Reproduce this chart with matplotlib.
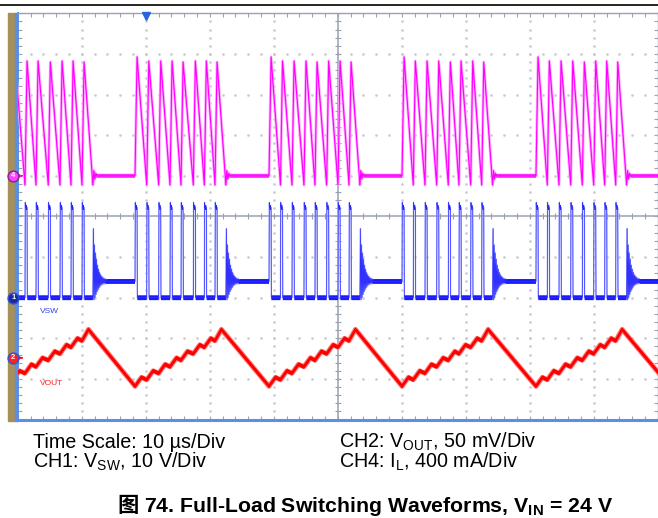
import matplotlib.pyplot as plt
import numpy as np
from matplotlib.lines import Line2D
from matplotlib.patches import Rectangle

plt.rcParams['font.family'] = ['Liberation Sans', 'Noto Sans CJK SC', 'DejaVu Sans']
plt.rcParams['mathtext.fontset'] = 'custom'
plt.rcParams['mathtext.rm'] = 'Liberation Sans'
plt.rcParams['mathtext.bf'] = 'Liberation Sans:bold'

W, H = 658, 518

bursts = [
    [-2.53, -0.73, 1.14, 2.86, 4.78, 6.61, 8.33, 10.05],
    [18.33, 20.16, 22.03, 23.80, 25.52, 27.44, 29.16, 30.83],
    [39.27, 41.06, 42.86, 44.73, 46.45, 48.27, 50.05, 51.77],
    [60.05, 61.81, 63.64, 65.47, 67.28, 68.95, 70.78, 72.50],
    [80.98, 82.75, 84.58, 86.41, 88.22, 90.00, 91.72, 93.44],
]
next_burst = 101.9
t_on = 0.32      # high side on time, us
t_dcm = 1.7      # last pulse -> inductor current back to zero, us
t_vpk = 1.0      # pulse start -> local Vout maximum, us

# CH4 inductor current, A
il_peak = [1.17, 1.13, 1.13, 1.13, 1.12, 1.13, 1.13, 1.12]
il_valley = -0.09
il_ring = [0.05, -0.03, 0.02, 0.0]

# CH1 switch node, V
vsw_high = 22.2
vsw_cap = 23.4
vsw_idle = 4.0
vsw_ring = [17.0, -0.5, 13.0, 0.0, 11.0, 0.8, 9.5, 1.5, 8.0, 2.0, 7.0, 2.5,
            6.2, 2.9, 5.6, 3.2, 5.2, 3.4, 4.9, 3.6, 4.6, 3.7, 4.4, 3.8, 4.3, 3.9, 4.0]
ring_dt = 0.08

# CH2 output ripple, mV (same staircase in every burst)
vout_min = [-35, -27, -19, -11, -3, 5, 13, 21]
vout_max = [-24, -16, -8, 0, 8, 16, 24, 35]

# screen position of each channel's ground marker (div) and scale (unit/div)
ch4_pos, ch4_scale = 1.0, 0.4
ch1_pos, ch1_scale = -2.0, 10.0
ch2_pos, ch2_scale = -3.48, 50.0

# build traces from the read breakpoints
il_t, il_v, sw_t, sw_v, vo_t, vo_v = [], [], [], [], [], []
for pulses in bursts:
    il_t.append(pulses[0]); il_v.append(0.0)
    for k, p in enumerate(pulses):
        il_t.append(p + t_on); il_v.append(il_peak[k])
        if k < len(pulses) - 1:
            il_t.append(pulses[k + 1]); il_v.append(il_valley)
        base = vsw_idle if k == 0 else 0.0
        sw_t += [p, p + 0.04, p + 0.1, p + t_on, p + t_on + 0.04]
        sw_v += [base, vsw_cap, vsw_high, vsw_high, 0.0]
        vo_t += [p, p + t_vpk]
        vo_v += [vout_min[k], vout_max[k]]
    end = pulses[-1] + t_dcm
    il_t.append(end); il_v.append(il_valley)
    for j, v in enumerate(il_ring):
        il_t.append(end + 0.15 * (j + 1)); il_v.append(v)
    sw_t.append(end); sw_v.append(0.0)
    for j, v in enumerate(vsw_ring):
        sw_t.append(end + ring_dt * (j + 1)); sw_v.append(v)
il_t.append(next_burst); il_v.append(0.0)
sw_t.append(next_burst); sw_v.append(vsw_idle)
vo_t.append(next_burst); vo_v.append(vout_min[0])

il_y = ch4_pos + np.array(il_v) / ch4_scale
sw_y = ch1_pos + np.array(sw_v) / ch1_scale
vo_y = ch2_pos + np.array(vo_v) / ch2_scale

fig = plt.figure(figsize=(W / 100, H / 100), dpi=100)
ax = fig.add_axes([17.7 / W, 1 - 419.6 / H, 640 / W, 406.3 / H])
ax.set_xlim(0, 100)
ax.set_ylim(-5, 5)

grid_c = '#c8cad0'
axis_c = '#9aa2b2'
ax.set_xticks(np.arange(0, 101, 10))
ax.set_xticks(np.arange(0, 101, 2), minor=True)
ax.set_yticks(np.arange(-5, 5.1, 1))
ax.set_yticks(np.arange(-5, 5.1, 0.2), minor=True)
ax.tick_params(which='both', direction='in', length=3, width=0.8, color=axis_c,
               top=True, right=True, labelbottom=False, labelleft=False)
for side in ['top', 'right']:
    ax.spines[side].set_color(axis_c)
    ax.spines[side].set_linewidth(1.0)
ax.spines['bottom'].set_color('#5b8fe0')
ax.spines['bottom'].set_linewidth(2.2)
ax.spines['left'].set_color('#5b8fe0')
ax.spines['left'].set_linewidth(1.4)

# dotted graticule
gy = np.arange(-5, 5.01, 0.2)
gx = np.arange(0, 100.1, 2)
for x in range(10, 100, 10):
    if x != 50:
        ax.plot(np.full(len(gy), x), gy, ls='none', marker='s', ms=0.8, color=grid_c)
for y in range(-4, 5):
    if y != 0:
        ax.plot(gx, np.full(len(gx), y), ls='none', marker='s', ms=0.8, color=grid_c)

# centre axes with ticks
ax.axhline(0, color=axis_c, lw=1.1)
ax.axvline(50, color=axis_c, lw=1.1)
ax.vlines(gx, -0.075, 0.075, color=axis_c, lw=0.8)
ax.hlines(gy, 49.5, 50.5, color=axis_c, lw=0.8)

# CH4 inductor current
ax.plot(il_t, il_y, color='#ffa8ff', lw=2.0, zorder=3)
ax.fill_between(il_t, il_y - 0.05, il_y + 0.05, color='#ff30ff', lw=0, zorder=3)
ax.plot(il_t, il_y, color='#ff00ff', lw=0.8, zorder=3)

# CH1 switch node
ax.plot(sw_t, sw_y, color='#b0b8ff', lw=1.0, zorder=4)
ax.fill_between(sw_t, sw_y - 0.06, sw_y + 0.06, color='#1a1aff', lw=0, zorder=4)
ax.plot(sw_t, sw_y, color='#3030ff', lw=0.5, zorder=4)

# CH2 output voltage
ax.plot(vo_t, vo_y, color='#ff7a7a', lw=3.6, zorder=5)
ax.fill_between(vo_t, vo_y - 0.05, vo_y + 0.05, color='#ff0000', lw=0, zorder=5)
ax.plot(vo_t, vo_y, color='#ff0000', lw=1.8, zorder=5)

# trigger marker
ax.plot(20.05, 4.93, marker='v', ms=5.5, color='#2a62e0', clip_on=False, zorder=6)

# channel ground markers
mx = -0.69
for pos, txt, fc, ec in [(ch4_pos, '4', '#ff40ff', '#7a2a7a'),
                         (ch1_pos, '1', '#1a2a9a', '#3050e0'),
                         (ch2_pos, '2', '#ff2020', '#3050e0')]:
    ax.plot(mx, pos, marker='o', ms=7.8, mfc=fc, mec=ec, mew=1.0,
            clip_on=False, zorder=10)
    ax.text(mx, pos, txt, color='white', fontsize=5.5, fontweight='bold',
            ha='center', va='center', clip_on=False, zorder=11)
ax.annotate('', xy=(1.2, ch4_pos), xytext=(0.2, ch4_pos),
            arrowprops=dict(arrowstyle='-|>', color='#ff00ff', lw=0.9,
                            mutation_scale=5), zorder=9)
ax.annotate('', xy=(1.2, ch2_pos), xytext=(0.2, ch2_pos),
            arrowprops=dict(arrowstyle='-|>', color='#ff0000', lw=0.9,
                            mutation_scale=5), zorder=9)

ax.text(3.5, -2.33, 'VSW', color='#3344dd', fontsize=6, va='center')
ax.text(3.5, -4.1, 'VOUT', color='#ff2020', fontsize=6, va='center')

# scope frame decoration
fig.add_artist(Rectangle((8 / W, 1 - 421 / H), 7 / W, (421 - 13.3) / H,
                         transform=fig.transFigure, color='#a68f5b', zorder=-1))
fig.add_artist(Rectangle((15 / W, 1 - 421 / H), 2.7 / W, (421 - 13.3) / H,
                         transform=fig.transFigure, color='#5b8fe0', zorder=-1))
fig.add_artist(Line2D([0, 1], [1 - 5 / H] * 2, color='black', lw=1.2))

# settings text
fs = 14.2
row1, row2 = 1 - 447.5 / H, 1 - 468 / H
fig.text(33.3 / W, row1, 'Time Scale: 10 µs/Div', fontsize=fs, va='baseline')
fig.text(33.3 / W, row2, r'CH1: V$_{\mathrm{SW}}$, 10 V/Div', fontsize=fs, va='baseline')
fig.text(339.3 / W, row1, r'CH2: V$_{\mathrm{OUT}}$, 50 mV/Div', fontsize=fs, va='baseline')
fig.text(339.3 / W, row2, r'CH4: I$_{\mathrm{L}}$, 400 mA/Div', fontsize=fs, va='baseline')

# caption
cap_fs = 15.3
cap_y = 1 - 512.5 / H
t1 = fig.text(117 / W, cap_y, '图', fontsize=cap_fs, fontweight='bold',
              family=['Noto Sans CJK SC'], va='baseline')
fig.canvas.draw()
bb = t1.get_window_extent()
fig.text((bb.x1 + 6) / W, cap_y,
         r'74. Full-Load Switching Waveforms, V$_{\mathbf{IN}}$ = 24 V',
         fontsize=cap_fs, fontweight='bold', va='baseline')

fig.savefig('out.png', dpi=100)
